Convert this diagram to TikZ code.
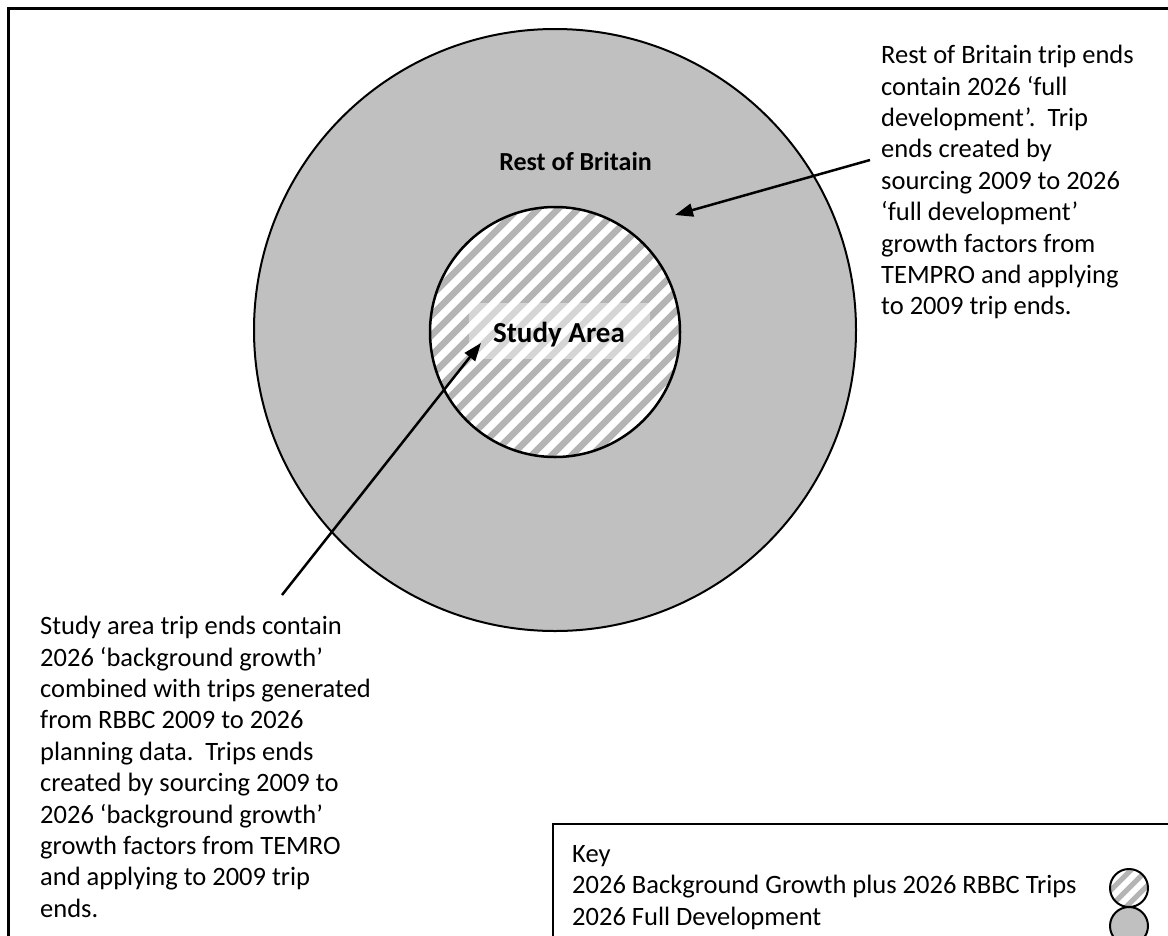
\documentclass[tikz,border=0pt]{standalone}
\usepackage{fontspec}
\setmainfont{Carlito}
\usetikzlibrary{arrows.meta,calc}
\definecolor{rbgray}{RGB}{192,192,192}
\definecolor{stripegray}{RGB}{180,180,180}
\begin{document}
\begin{tikzpicture}[x=1pt,y=-1pt,
  body/.style={font=\fontsize{26.5}{31.4}\selectfont, align=left, inner sep=0pt, anchor=north west},
  biglabel/.style={font=\fontsize{29}{34}\selectfont\bfseries, inner sep=0pt},
  roblabelstyle/.style={font=\fontsize{26}{30}\selectfont\bfseries, inner sep=0pt},
  ptr/.style={line width=2.5pt, -{Triangle[length=18pt,width=13pt]}},
  stripe/.style={line width=6.5pt, stripegray},
  outline/.style={draw, line width=2pt},
]
\useasboundingbox (0,0) rectangle (1168,935);
\fill[white] (0,0) rectangle (1168,935);
% outer frame
\draw[line width=3pt] (8,945) -- (8,8) -- (1180,8);

% Rest of Britain circle
\node[circle, outline, fill=rbgray, minimum size=602pt, inner sep=0pt] (rob) at (555,330) {};

% Study area circle (hatched)
\coordinate (sac) at (555,332);
\fill[white] (sac) circle (125pt);
\begin{scope}
  \clip (sac) circle (125pt);
  \foreach \i in {-14,...,14}
    \draw[stripe] ($(sac)+(\i*20-150,150)$) -- ++(300,-300);
\end{scope}
\node[circle, draw, line width=2.5pt, minimum size=250pt, inner sep=0pt] (sa) at (sac) {};

% Study Area text box
\node[fill=white, fill opacity=0.45, minimum width=181pt, minimum height=56pt, inner sep=0pt] (sabox) at (559.5,331) {};
\node[biglabel, anchor=base west] (salabel) at (493,342) {Study Area};

% Rest of Britain label
\node[roblabelstyle, anchor=base east] (roblabel) at (652,170) {Rest of Britain};

% right annotation
\node[body] (rtext) at (881,45) {Rest of Britain trip ends\\
contain 2026 ‘full\\
development’.\ \ Trip\\
ends created by\\
sourcing 2009 to 2026\\
‘full development’\\
growth factors from\\
TEMPRO and applying\\
to 2009 trip ends.};

% left annotation
\node[body] (ltext) at (40,616) {Study area trip ends contain\\
2026 ‘background growth’\\
combined with trips generated\\
from RBBC 2009 to 2026\\
planning data.\ \ Trips ends\\
created by sourcing 2009 to\\
2026 ‘background growth’\\
growth factors from TEMRO\\
and applying to 2009 trip\\
ends.};

% arrows
\coordinate (rtail) at (870,160);
\coordinate (rtip) at (675,215);
\draw[ptr] (rtail) -- (rtip);
\coordinate (ltail) at (282,595);
\coordinate (ltip) at (481,343);
\draw[ptr] (ltail) -- (ltip);

% key box
\draw[line width=2.5pt] (553,945) -- (553,824) -- (1180,824);
\node[body] (keytext) at (572,845) {Key\\
2026 Background Growth plus 2026 RBBC Trips\\
2026 Full Development};

% key symbols
\coordinate (k1) at (1129,888);
\fill[white] (k1) circle (19pt);
\begin{scope}
  \clip (k1) circle (19pt);
  \foreach \i in {-2,...,2}
    \draw[line width=5pt, stripegray] ($(k1)+(\i*16-25,25)$) -- ++(50,-50);
\end{scope}
\node[circle, outline, minimum size=38pt, inner sep=0pt] (key1) at (k1) {};
\node[circle, outline, fill=rbgray, minimum size=38pt, inner sep=0pt] (key2) at (1129,926) {};
\end{tikzpicture}
\end{document}
